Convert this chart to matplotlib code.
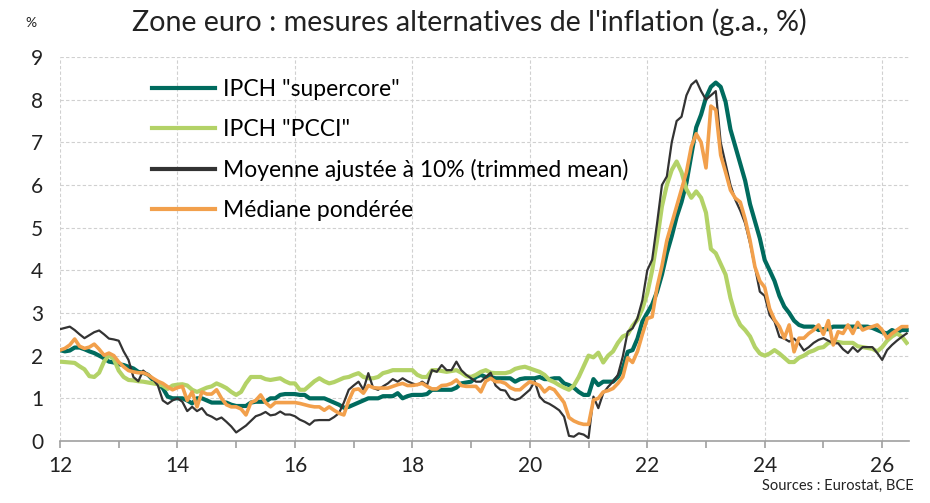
import matplotlib
matplotlib.use("Agg")
import matplotlib.pyplot as plt
import numpy as np
from matplotlib.ticker import MultipleLocator

plt.rcParams['font.family'] = ['Lato', 'DejaVu Sans']

# monthly observations, Jan 2012 onwards (x axis in years, "12" = 2012)
start_year = 12

supercore = [
    2.13, 2.10, 2.12, 2.19, 2.19, 2.15, 2.10, 2.06, 2.00, 1.94, 1.86, 1.84,
    1.80, 1.78, 1.74, 1.70, 1.62, 1.60, 1.55, 1.43, 1.35, 1.24, 1.04, 1.00,
    1.00, 1.00, 0.95, 0.88, 1.00, 1.00, 0.95, 0.90, 0.90, 0.90, 0.90, 0.85,
    0.82, 0.82, 0.82, 0.90, 0.92, 0.92, 0.92, 1.00, 1.00, 1.08, 1.10, 1.10,
    1.10, 1.08, 1.08, 1.00, 1.00, 1.00, 1.00, 0.95, 0.90, 0.85, 0.78, 0.80,
    0.85, 0.90, 0.95, 1.00, 1.00, 1.00, 1.05, 1.05, 1.05, 1.12, 1.00, 1.05,
    1.08, 1.08, 1.08, 1.10, 1.20, 1.20, 1.20, 1.20, 1.20, 1.25, 1.35, 1.37,
    1.39, 1.50, 1.55, 1.50, 1.50, 1.47, 1.47, 1.47, 1.47, 1.39, 1.45, 1.47,
    1.47, 1.47, 1.50, 1.45, 1.45, 1.47, 1.47, 1.35, 1.31, 1.25, 1.15, 1.08,
    1.08, 1.45, 1.31, 1.39, 1.39, 1.39, 1.50, 1.70, 2.09, 2.13, 2.40, 2.80,
    3.00, 3.20, 3.50, 3.90, 4.40, 4.80, 5.25, 5.60, 6.05, 6.70, 7.35, 7.65,
    8.05, 8.30, 8.40, 8.30, 7.95, 7.30, 6.90, 6.50, 6.10, 5.55, 5.15, 4.75,
    4.24, 4.00, 3.75, 3.40, 3.15, 3.00, 2.82, 2.72, 2.68, 2.68, 2.68, 2.60,
    2.62, 2.62, 2.68, 2.68, 2.68, 2.68, 2.68, 2.68, 2.68, 2.68, 2.65, 2.60,
    2.55, 2.52, 2.60, 2.55, 2.60, 2.60,
]

pcci = [
    1.86, 1.85, 1.84, 1.83, 1.75, 1.68, 1.52, 1.50, 1.60, 1.86, 2.01, 1.92,
    1.65, 1.50, 1.43, 1.42, 1.40, 1.39, 1.37, 1.35, 1.33, 1.30, 1.22, 1.30,
    1.32, 1.33, 1.30, 1.20, 1.15, 1.20, 1.25, 1.28, 1.35, 1.30, 1.24, 1.15,
    1.08, 1.15, 1.35, 1.50, 1.50, 1.50, 1.45, 1.43, 1.45, 1.47, 1.40, 1.35,
    1.35, 1.20, 1.20, 1.30, 1.40, 1.47, 1.40, 1.35, 1.38, 1.43, 1.48, 1.50,
    1.55, 1.59, 1.50, 1.47, 1.47, 1.50, 1.59, 1.62, 1.66, 1.66, 1.66, 1.66,
    1.66, 1.55, 1.50, 1.50, 1.66, 1.66, 1.64, 1.62, 1.64, 1.66, 1.60, 1.52,
    1.50, 1.55, 1.62, 1.66, 1.60, 1.59, 1.59, 1.59, 1.62, 1.69, 1.72, 1.74,
    1.70, 1.66, 1.62, 1.55, 1.43, 1.38, 1.31, 1.25, 1.20, 1.30, 1.50, 1.75,
    2.00, 1.96, 2.07, 1.84, 2.00, 2.10, 2.30, 2.45, 2.50, 2.70, 2.84, 3.10,
    3.46, 4.00, 4.70, 5.50, 6.00, 6.35, 6.55, 6.30, 5.90, 5.70, 5.85, 5.70,
    5.35, 4.50, 4.40, 4.15, 3.90, 3.35, 2.95, 2.72, 2.60, 2.45, 2.20, 2.05,
    2.00, 2.05, 2.13, 2.05, 1.95, 1.85, 1.85, 1.95, 2.00, 2.08, 2.12, 2.18,
    2.20, 2.30, 2.33, 2.32, 2.30, 2.30, 2.30, 2.22, 2.20, 2.18, 2.16, 2.10,
    2.20, 2.35, 2.45, 2.52, 2.45, 2.30,
]

trimmed_mean = [
    2.62, 2.65, 2.68, 2.60, 2.50, 2.41, 2.48, 2.55, 2.59, 2.50, 2.40, 2.38,
    2.35, 2.10, 1.90, 1.50, 1.40, 1.65, 1.55, 1.45, 1.30, 0.95, 0.87, 0.95,
    1.00, 0.92, 0.70, 0.80, 0.70, 0.77, 0.62, 0.57, 0.50, 0.55, 0.45, 0.34,
    0.20, 0.28, 0.36, 0.47, 0.58, 0.62, 0.68, 0.60, 0.62, 0.69, 0.62, 0.62,
    0.58, 0.50, 0.45, 0.38, 0.48, 0.49, 0.49, 0.49, 0.56, 0.65, 0.90, 1.20,
    1.30, 1.39, 1.20, 1.59, 1.24, 1.20, 1.28, 1.35, 1.45, 1.39, 1.47, 1.40,
    1.35, 1.31, 1.39, 1.31, 1.66, 1.62, 1.78, 1.66, 1.66, 1.86, 1.66, 1.55,
    1.47, 1.39, 1.39, 1.50, 1.60, 1.30, 1.20, 1.18, 1.00, 0.96, 1.00, 1.10,
    1.20, 1.40, 1.04, 0.92, 0.87, 0.80, 0.72, 0.57, 0.12, 0.10, 0.18, 0.15,
    0.07, 1.04, 0.77, 1.12, 1.27, 1.39, 1.55, 1.98, 2.56, 2.64, 2.88, 3.30,
    4.00, 4.25, 5.10, 6.00, 6.20, 7.00, 7.50, 7.60, 8.10, 8.35, 8.45, 8.20,
    8.00, 8.10, 8.20, 7.00, 6.50, 6.00, 5.65, 5.40, 5.10, 4.63, 4.08, 3.50,
    3.40, 2.95, 2.80, 2.44, 2.40, 2.33, 2.40, 2.29, 2.12, 2.20, 2.30, 2.37,
    2.41, 2.35, 2.29, 2.29, 2.15, 2.06, 2.20, 2.09, 2.20, 2.20, 2.20, 2.06,
    1.90, 2.13, 2.25, 2.35, 2.44, 2.52,
]

weighted_median = [
    2.13, 2.17, 2.25, 2.39, 2.22, 2.17, 2.20, 2.27, 2.15, 2.01, 2.06, 2.00,
    1.85, 1.74, 1.65, 1.62, 1.60, 1.60, 1.55, 1.47, 1.40, 1.35, 1.27, 1.20,
    1.25, 1.28, 0.95, 1.15, 0.80, 1.15, 1.10, 1.10, 1.20, 1.00, 0.85, 0.80,
    0.80, 0.75, 0.61, 0.90, 0.95, 1.08, 0.90, 0.80, 0.90, 0.90, 0.90, 0.90,
    0.90, 0.88, 0.85, 0.82, 0.80, 0.80, 0.72, 0.80, 0.72, 0.65, 0.61, 0.95,
    1.20, 1.22, 1.12, 1.30, 1.25, 1.24, 1.24, 1.24, 1.28, 1.32, 1.35, 1.30,
    1.30, 1.32, 1.35, 1.28, 1.22, 1.22, 1.30, 1.31, 1.35, 1.43, 1.30, 1.28,
    1.28, 1.28, 1.15, 1.40, 1.47, 1.39, 1.39, 1.35, 1.25, 1.20, 1.20, 1.30,
    1.39, 1.35, 1.30, 1.15, 1.25, 1.20, 1.05, 0.90, 0.55, 0.47, 0.42, 0.39,
    0.39, 0.96, 1.00, 1.15, 1.18, 1.23, 1.35, 1.50, 1.95, 1.84, 2.10, 2.50,
    2.87, 2.91, 3.60, 4.10, 4.70, 5.10, 5.50, 5.90, 6.30, 6.90, 7.20, 7.00,
    6.40, 7.85, 7.76, 6.70, 6.30, 5.88, 5.69, 5.60, 5.20, 4.70, 4.08, 3.75,
    3.60, 3.10, 2.84, 2.68, 2.41, 2.72, 2.09, 2.41, 2.41, 2.52, 2.60, 2.72,
    2.50, 2.82, 2.25, 2.56, 2.52, 2.72, 2.52, 2.78, 2.60, 2.65, 2.68, 2.72,
    2.60, 2.41, 2.52, 2.60, 2.68, 2.68,
]

labels = ['IPCH "supercore"', 'IPCH "PCCI"',
          'Moyenne ajustée à 10% (trimmed mean)', 'Médiane pondérée']
colors = ['#006b5e', '#b3d267', '#333333', '#f2a04c']
widths = [3.0, 3.0, 1.6, 2.6]

n = len(supercore)
t = start_year + np.arange(n) / 12

fig = plt.figure(figsize=(9.3, 5.03), dpi=100)
ax = fig.add_axes([0.0645, 0.1233, 0.9125, 0.7634])

series = [supercore, pcci, trimmed_mean, weighted_median]
for vals, lab, c, w in zip(series, labels, colors, widths):
    ax.plot(t, vals, color=c, lw=w, label=lab)

ax.set_xlim(12, 26.45)
ax.set_ylim(0, 9)
ax.xaxis.set_major_locator(MultipleLocator(2))
ax.xaxis.set_minor_locator(MultipleLocator(1))
ax.yaxis.set_major_locator(MultipleLocator(1))

ax.grid(True, which='major', color='#d0d0d0', linestyle=(0, (3, 2)), lw=0.8)
ax.set_axisbelow(True)

for s in ['top', 'right', 'left']:
    ax.spines[s].set_visible(False)
ax.spines['bottom'].set_color('#a0a0a0')
ax.spines['bottom'].set_linewidth(1.2)

ax.tick_params(axis='x', which='both', direction='out', colors='#a0a0a0',
               labelcolor='#222222', labelsize=15, length=5, width=1.2, pad=6)
ax.tick_params(axis='y', length=0, labelsize=15, labelcolor='#222222', pad=12)

leg = ax.legend(loc='upper left', bbox_to_anchor=(0.098, 0.967), frameon=False,
                fontsize=16.5, handlelength=2.75, handletextpad=0.35,
                labelspacing=0.83, borderaxespad=0)
for line in leg.get_lines():
    line.set_linewidth(3.0)

fig.text(0.505, 0.955, "Zone euro : mesures alternatives de l'inflation (g.a., %)",
         ha='center', va='center', fontsize=20.6, color='#222222')
fig.text(0.033, 0.955, '%', ha='center', va='center', fontsize=10, color='#222222')
fig.text(0.983, 0.02, 'Sources : Eurostat, BCE', ha='right', va='bottom',
         fontsize=10.5, color='#222222')

fig.savefig('out.png', dpi=100)
